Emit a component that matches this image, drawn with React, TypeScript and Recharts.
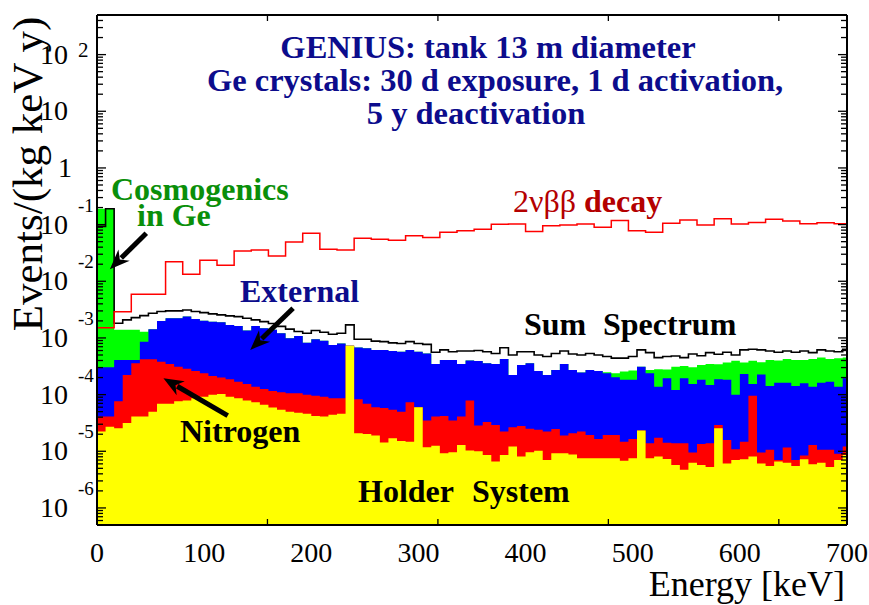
import React from 'react';
import { ComposedChart, Area, Line, XAxis, YAxis, ReferenceLine } from 'recharts';

// histogram binning (keV)
const BIN_KEV = 8;
const NNBB_BIN_KEV = 16;
const E_MAX = 700;
const Y_MIN = 5e-7;
const Y_MAX = 500;

// Holder system (yellow), 8 keV bins
const holderSystem = [
  2.24e-5, 2.7e-5, 2.55e-5, 3.15e-5, 4.1e-5, 4.1e-5, 5.0e-5, 6.9e-5, 6.9e-5, 7.6e-5,
  7.9e-5, 8.6e-5, 9.2e-5, 9.9e-5, 1.03e-4, 9.2e-5, 8.6e-5, 7.9e-5, 7.3e-5, 6.6e-5,
  5.9e-5, 5.4e-5, 5.0e-5, 4.8e-5, 4.6e-5, 4.2e-5, 4.1e-5, 4.4e-5, 4.6e-5, 7.3e-4,
  2.08e-5, 2.02e-5, 1.89e-5, 1.43e-5, 1.69e-5, 1.52e-5, 1.47e-5, 6.0e-5, 1.18e-5, 1.25e-5,
  9.2e-6, 9.6e-6, 1.29e-5, 1.03e-5, 1.0e-5, 8.6e-6, 6.6e-6, 8.6e-6, 1.21e-5, 8.1e-6,
  9.6e-6, 1.02e-5, 7.0e-6, 9.2e-6, 9.2e-6, 8.8e-6, 7.5e-6, 7.5e-6, 7.5e-6, 7.5e-6,
  7.5e-6, 6.8e-6, 7.5e-6, 2.33e-5, 7.5e-6, 8.1e-6, 7.3e-6, 5.7e-6, 4.7e-6, 6.3e-6,
  5.7e-6, 5.3e-6, 2.55e-5, 6.1e-6, 7.0e-6, 7.2e-6, 8.1e-6, 6.1e-6, 5.5e-6, 6.6e-6,
  6.3e-6, 5.5e-6, 7.2e-6, 5.9e-6, 6.3e-6, 5.3e-6, 7.0e-6, 8.6e-6,
];

// Nitrogen (red), top of the red band
const nitrogen = [
  4.1e-5, 4.1e-5, 7.6e-5, 2.22e-4, 3.57e-4, 4.2e-4, 4.2e-4, 3.8e-4, 3.48e-4, 3.1e-4,
  2.85e-4, 2.62e-4, 2.39e-4, 2.13e-4, 2.0e-4, 1.87e-4, 1.69e-4, 1.54e-4, 1.38e-4, 1.25e-4,
  1.16e-4, 1.1e-4, 1.06e-4, 1.06e-4, 9.9e-5, 9.5e-5, 9.2e-5, 8.6e-5, 8.6e-5, 7.3e-4,
  8.3e-5, 6.9e-5, 6.0e-5, 5.8e-5, 5.4e-5, 5.0e-5, 7.3e-5, 6.0e-5, 3.5e-5, 4.1e-5,
  4.2e-5, 3.5e-5, 4.1e-5, 7.9e-5, 2.85e-5, 3.3e-5, 2.9e-5, 2.24e-5, 2.65e-5, 2.8e-5,
  2.5e-5, 2.4e-5, 2.24e-5, 2.48e-5, 1.89e-5, 2.08e-5, 2.24e-5, 1.94e-5, 1.64e-5, 1.94e-5,
  1.94e-5, 1.47e-5, 1.64e-5, 2.33e-5, 1.38e-5, 1.73e-5, 1.42e-5, 1.38e-5, 1.38e-5, 9.5e-6,
  1.34e-5, 1.38e-5, 2.9e-5, 1.58e-5, 1.09e-5, 1.47e-5, 9.5e-5, 9.5e-6, 1.06e-5, 7.0e-6,
  1.16e-5, 7.0e-6, 8.4e-6, 1.29e-5, 1.06e-5, 1.06e-5, 9.0e-6, 1.21e-5,
];

// External (blue), top of the blue band
const external = [
  3.04e-4, 3.04e-4, 4.1e-4, 4.1e-4, 4.1e-4, 8.6e-4, 1.43e-3, 2.0e-3, 2.23e-3, 2.23e-3,
  2.38e-3, 2.17e-3, 2.02e-3, 1.94e-3, 1.89e-3, 1.7e-3, 1.63e-3, 1.35e-3, 1.63e-3, 1.48e-3,
  1.39e-3, 1.21e-3, 9.9e-4, 1.08e-3, 8.2e-4, 9.5e-4, 8.9e-4, 7.5e-4, 8.0e-4, 7.3e-4,
  6.8e-4, 6.6e-4, 6.15e-4, 6.15e-4, 5.9e-4, 5.7e-4, 6.15e-4, 5.7e-4, 5.3e-4, 3.48e-4,
  4.1e-4, 4.1e-4, 3.48e-4, 4.0e-4, 3.9e-4, 3.57e-4, 3.48e-4, 4.27e-4, 2.22e-4, 3.34e-4,
  3.57e-4, 2.62e-4, 2.22e-4, 2.73e-4, 3.48e-4, 2.73e-4, 2.45e-4, 2.73e-4, 2.62e-4, 2.39e-4,
  2.03e-4, 1.82e-4, 1.82e-4, 3.1e-4, 2.39e-4, 1.38e-4, 1.95e-4, 1.21e-4, 1.95e-4, 1.54e-4,
  1.82e-4, 1.48e-4, 1.87e-4, 1.82e-4, 9.9e-5, 2.31e-4, 1.54e-4, 2.27e-4, 1.42e-4, 1.62e-4,
  1.62e-4, 1.42e-4, 1.58e-4, 1.38e-4, 1.62e-4, 1.69e-4, 1.38e-4, 1.95e-4,
];

// Cosmogenics in Ge (green), only where it shows above the blue band
const cosmogenics = [
  0.19, 0.19, 1.39e-3, 1.39e-3, 1.39e-3, 1.29e-3, null, null, null, null,
  null, null, null, null, null, null, null, null, null, null,
  null, null, null, null, null, null, null, null, null, null,
  null, null, null, null, null, null, null, null, null, null,
  null, null, null, null, null, null, null, null, null, null,
  null, null, null, null, null, null, null, null, null, 2.49e-4,
  2.39e-4, 2.56e-4, 2.65e-4, 3.1e-4, 2.73e-4, 2.8e-4, 2.76e-4, 3.1e-4, 3.2e-4, 3.05e-4,
  3.34e-4, 3.48e-4, 3.44e-4, 3.67e-4, 3.94e-4, 3.67e-4, 3.94e-4, 3.73e-4, 4.1e-4, 3.99e-4,
  4.27e-4, 4.1e-4, 4.1e-4, 4.27e-4, 4.5e-4, 4.27e-4, 4.4e-4, 4.5e-4,
];

// Sum spectrum (black line)
const sumSpectrum = [
  0.093, 0.19, 1.82e-3, 2.08e-3, 2.28e-3, 2.48e-3, 2.73e-3, 2.92e-3, 3.0e-3, 3.0e-3,
  3.12e-3, 2.92e-3, 2.8e-3, 2.66e-3, 2.55e-3, 2.45e-3, 2.38e-3, 2.23e-3, 2.08e-3, 1.94e-3,
  1.8e-3, 1.6e-3, 1.43e-3, 1.3e-3, 1.21e-3, 1.35e-3, 1.26e-3, 1.16e-3, 1.21e-3, 1.7e-3,
  9.5e-4, 9.5e-4, 8.8e-4, 8.6e-4, 8.2e-4, 8.0e-4, 8.6e-4, 8.0e-4, 7.7e-4, 5.6e-4,
  6.15e-4, 5.7e-4, 5.9e-4, 5.9e-4, 6.0e-4, 5.7e-4, 5.3e-4, 6.7e-4, 5.0e-4, 5.7e-4,
  5.7e-4, 5.0e-4, 4.7e-4, 5.3e-4, 5.9e-4, 5.2e-4, 5.0e-4, 5.3e-4, 5.0e-4, 4.7e-4,
  4.4e-4, 4.4e-4, 4.7e-4, 6.15e-4, 5.5e-4, 4.5e-4, 4.7e-4, 4.8e-4, 4.5e-4, 5.2e-4,
  4.85e-4, 5.5e-4, 5.15e-4, 5.6e-4, 5.0e-4, 6.15e-4, 6.3e-4, 6.15e-4, 5.9e-4, 5.6e-4,
  5.9e-4, 5.6e-4, 5.9e-4, 5.5e-4, 6.15e-4, 5.9e-4, 5.7e-4, 6.3e-4,
];

// 2nu beta beta decay (red line), 16 keV bins
const twoNuBB = [
  1.51e-3, 2.91e-3, 5.88e-3, 5.88e-3, 0.0222, 0.0133, 0.0235, 0.0192, 0.0343, 0.0357,
  0.028, 0.0495, 0.0704, 0.0367, 0.0355, 0.0575, 0.0553, 0.053, 0.0638, 0.059,
  0.0733, 0.0782, 0.0828, 0.1015, 0.103, 0.0752, 0.0959, 0.0986, 0.103, 0.0899,
  0.1176, 0.0782, 0.0733, 0.1058, 0.121, 0.0986, 0.1275, 0.103, 0.1084, 0.1245,
  0.116, 0.104, 0.108, 0.104,
];

const xTicks = [0, 100, 200, 300, 400, 500, 600, 700];
const yTicks = [1e-6, 1e-5, 1e-4, 1e-3, 1e-2, 1e-1, 1, 10, 100];

// annotation arrows: [keV, value] tail -> head
const arrows = [
  { from: [46, 0.0705], to: [12, 0.0163] },
  { from: [183, 3.34e-3], to: [143, 6.15e-4] },
  { from: [122, 4.25e-5], to: [62, 1.95e-4] },
];

const data = holderSystem.map((h, i) => ({
  e: i * BIN_KEV,
  holder: h,
  nitrogen: nitrogen[i],
  external: external[i],
  cosmo: cosmogenics[i] ?? external[i],
  sum: sumSpectrum[i],
  nnbb: twoNuBB[Math.floor((i * BIN_KEV) / NNBB_BIN_KEV)],
}));
data.push({ ...data[data.length - 1], e: E_MAX });

const xMinor: number[] = [];
for (let v = 20; v < E_MAX; v += 20) if (v % 100 !== 0) xMinor.push(v);
const yMinor: number[] = [];
for (let d = -7; d <= 2; d++) {
  for (let k = 2; k <= 9; k++) {
    const v = k * Math.pow(10, d);
    if (v > Y_MIN * 1.001 && v < Y_MAX * 0.999) yMinor.push(v);
  }
}

const FONT = "'Liberation Serif', 'Times New Roman', serif";
const NAVY = '#0c0c8c';

const XTick = ({ x, y, payload }: any) => (
  <text x={x} y={y + 37} textAnchor="middle" fontFamily={FONT} fontSize={28} fill="#000">
    {payload.value}
  </text>
);

const YTick = ({ x, y, payload }: any) => {
  const exp = Math.round(Math.log10(payload.value));
  if (exp === 0) {
    return (
      <text x={x - 25} y={y + 9} textAnchor="end" fontFamily={FONT} fontSize={28} fill="#000">1</text>
    );
  }
  return (
    <g>
      <text x={x - 29} y={y + 9} textAnchor="end" fontFamily={FONT} fontSize={28} fill="#000">10</text>
      {exp !== 1 && (
        <text
          x={x - 19}
          y={exp > 0 ? y + 2 : y - 13}
          textAnchor="start"
          fontFamily={FONT}
          fontSize={exp > 0 ? 21 : 19}
          fill="#000"
        >
          {exp}
        </text>
      )}
    </g>
  );
};

const NoLabel = () => <g />;

const ArrowShape = (props: any) => {
  const { x1, y1, x2, y2 } = props;
  const ang = Math.atan2(y2 - y1, x2 - x1);
  const len = 20;
  const half = 8;
  const bx = x2 - len * Math.cos(ang);
  const by = y2 - len * Math.sin(ang);
  const px = half * Math.sin(ang);
  const py = half * Math.cos(ang);
  return (
    <g>
      <line x1={x1} y1={y1} x2={bx + 4 * Math.cos(ang)} y2={by + 4 * Math.sin(ang)} stroke="#000" strokeWidth={5} />
      <polygon
        points={`${x2},${y2} ${bx + px},${by - py} ${bx + 6 * Math.cos(ang)},${by + 6 * Math.sin(ang)} ${bx - px},${by + py}`}
        fill="#000"
      />
    </g>
  );
};

const frame = { stroke: '#000', strokeWidth: 2 };
const tickStroke = { stroke: '#000', strokeWidth: 1.3 };

export default function App() {
  return (
    <div style={{ position: 'absolute', left: 0, top: 0, width: 869, height: 605, background: '#fff' }}>
      <ComposedChart width={869} height={605} data={data} margin={{ top: 15, right: 22, bottom: 30, left: 0 }}>
        {/* main axes */}
        <XAxis
          xAxisId="x"
          dataKey="e"
          type="number"
          domain={[0, E_MAX]}
          allowDataOverflow
          ticks={xTicks}
          interval={0}
          height={50}
          tickLine={false}
          tickSize={0}
          tickMargin={0}
          axisLine={frame}
          tick={XTick}
        />
        <YAxis
          yAxisId="y"
          type="number"
          scale="log"
          domain={[Y_MIN, Y_MAX]}
          allowDataOverflow
          ticks={yTicks}
          interval={0}
          width={97}
          tickLine={false}
          tickSize={0}
          tickMargin={0}
          axisLine={frame}
          tick={YTick}
        />

        {/* inward ticks on all four sides */}
        <XAxis xAxisId="xb1" type="number" domain={[0, E_MAX]} allowDataOverflow ticks={xTicks} interval={0} mirror height={1} tickSize={9} tick={NoLabel} axisLine={false} tickLine={tickStroke} />
        <XAxis xAxisId="xb2" type="number" domain={[0, E_MAX]} allowDataOverflow ticks={xMinor} interval={0} mirror height={1} tickSize={5} tick={NoLabel} axisLine={false} tickLine={tickStroke} />
        <XAxis xAxisId="xt1" orientation="top" type="number" domain={[0, E_MAX]} allowDataOverflow ticks={xTicks} interval={0} mirror height={1} tickSize={9} tick={NoLabel} axisLine={frame} tickLine={tickStroke} />
        <XAxis xAxisId="xt2" orientation="top" type="number" domain={[0, E_MAX]} allowDataOverflow ticks={xMinor} interval={0} mirror height={1} tickSize={5} tick={NoLabel} axisLine={false} tickLine={tickStroke} />
        <YAxis yAxisId="yl1" type="number" scale="log" domain={[Y_MIN, Y_MAX]} allowDataOverflow ticks={yTicks} interval={0} mirror width={1} tickSize={9} tick={NoLabel} axisLine={false} tickLine={tickStroke} />
        <YAxis yAxisId="yl2" type="number" scale="log" domain={[Y_MIN, Y_MAX]} allowDataOverflow ticks={yMinor} interval={0} mirror width={1} tickSize={5} tick={NoLabel} axisLine={false} tickLine={tickStroke} />
        <YAxis yAxisId="yr1" orientation="right" type="number" scale="log" domain={[Y_MIN, Y_MAX]} allowDataOverflow ticks={yTicks} interval={0} mirror width={1} tickSize={9} tick={NoLabel} axisLine={frame} tickLine={tickStroke} />
        <YAxis yAxisId="yr2" orientation="right" type="number" scale="log" domain={[Y_MIN, Y_MAX]} allowDataOverflow ticks={yMinor} interval={0} mirror width={1} tickSize={5} tick={NoLabel} axisLine={false} tickLine={tickStroke} />

        {/* filled histograms, drawn back to front */}
        <Area xAxisId="x" yAxisId="y" type="stepAfter" dataKey="cosmo" fill="#00ff00" fillOpacity={1} stroke="none" baseValue={Y_MIN} isAnimationActive={false} />
        <Area xAxisId="x" yAxisId="y" type="stepAfter" dataKey="external" fill="#0000ff" fillOpacity={1} stroke="none" baseValue={Y_MIN} isAnimationActive={false} />
        <Area xAxisId="x" yAxisId="y" type="stepAfter" dataKey="nitrogen" fill="#ff0000" fillOpacity={1} stroke="none" baseValue={Y_MIN} isAnimationActive={false} />
        <Area xAxisId="x" yAxisId="y" type="stepAfter" dataKey="holder" fill="#ffff00" fillOpacity={1} stroke="none" baseValue={Y_MIN} isAnimationActive={false} />

        <Line xAxisId="x" yAxisId="y" type="stepAfter" dataKey="sum" stroke="#000" strokeWidth={1.6} dot={false} activeDot={false} isAnimationActive={false} />
        <Line xAxisId="x" yAxisId="y" type="stepAfter" dataKey="nnbb" stroke="#ff0000" strokeWidth={1.5} dot={false} activeDot={false} isAnimationActive={false} />

        {arrows.map((a, i) => (
          <ReferenceLine
            key={i}
            xAxisId="x"
            yAxisId="y"
            segment={[{ x: a.from[0], y: a.from[1] }, { x: a.to[0], y: a.to[1] }]}
            shape={ArrowShape}
          />
        ))}
      </ComposedChart>

      <svg width={869} height={605} style={{ position: 'absolute', left: 0, top: 0, pointerEvents: 'none' }}>
        <g fontFamily={FONT} fontWeight="bold" fontSize={32}>
          <text x={488} y={58} textAnchor="middle" fill={NAVY} fontSize={32.5}>GENIUS: tank 13 m diameter</text>
          <text x={495} y={91} textAnchor="middle" fill={NAVY} fontSize={32.5}>Ge crystals: 30 d exposure, 1 d activation,</text>
          <text x={476} y={124} textAnchor="middle" fill={NAVY} fontSize={32.5}>5 y deactivation</text>
          <text x={111} y={200} fill="#0a8f0a">Cosmogenics</text>
          <text x={137} y={226} fill="#0a8f0a">in Ge</text>
          <text x={513} y={212} fill="#b40000">
            <tspan fontWeight="normal">2νββ </tspan>
            <tspan>decay</tspan>
          </text>
          <text x={240} y={302} fill={NAVY}>External</text>
          <text x={524} y={335} fill="#000">Sum</text>
          <text x={603} y={335} fill="#000">Spectrum</text>
          <text x={180} y={442} fill="#000">Nitrogen</text>
          <text x={358} y={502} fill="#000">Holder</text>
          <text x={472} y={502} fill="#000">System</text>
        </g>
        <text
          x={42}
          y={174}
          transform="rotate(-90 42 174)"
          textAnchor="middle"
          fontFamily={FONT}
          fontSize={43}
          fill="#000"
        >
          Events/(kg keV y)
        </text>
        <text x={845} y={596} textAnchor="end" fontFamily={FONT} fontSize={36} fill="#000">
          Energy [keV]
        </text>
      </svg>
    </div>
  );
}
